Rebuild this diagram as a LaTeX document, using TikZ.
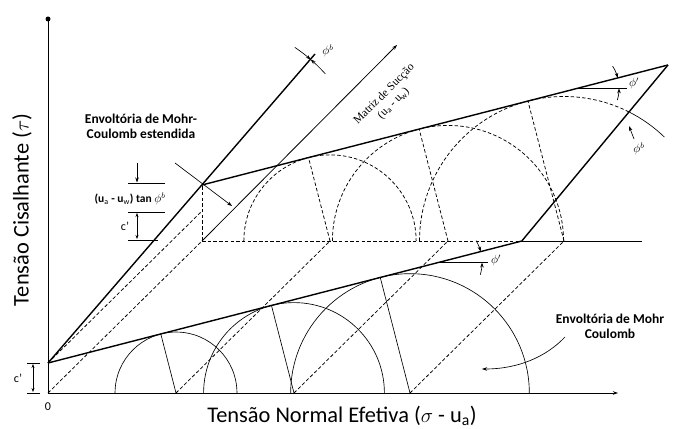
\documentclass[tikz,border=0pt]{standalone}
\usepackage{amsmath}
\usepackage{fontspec}
\setmainfont{Carlito}
\newfontfamily\serf{Liberation Serif}
\usetikzlibrary{calc,arrows.meta}

\begin{document}
\begin{tikzpicture}[x=1pt,y=1pt,>={Stealth[length=5pt,width=3.5pt]},
  env/.style={line width=1.4pt},
  thinl/.style={line width=0.65pt},
  dsh/.style={line width=0.75pt,dash pattern=on 3.5pt off 2.2pt},
  brk/.style={line width=0.7pt},
  lbl/.style={font=\bfseries\fontsize{13.5}{15}\selectfont,align=center,inner sep=0pt}]
  \useasboundingbox (-48,-36) rectangle (625,393);
  \def\k{0.2575}
  \def\ph{14.44}
  \coordinate (O) at (0,0);
  \coordinate (Yt) at (0,374);
  \coordinate (Xe) at (570,0);
  \coordinate (C0) at (0,30);
  \coordinate (B0) at (154,152);
  \coordinate (C1) at (154,208);
  \coordinate (Cs) at (154,182);
  \coordinate (E1) at (473.8,152);
  \coordinate (Ap) at (620,328);
  \coordinate (Be) at (594,152);
  \coordinate (Tb) at (267,339);
  \coordinate (Su) at (349,348);
  \coordinate (V1) at (390,130.4);
  \coordinate (V2) at (529,304.6);
  % eixos
  \draw[line width=0.9pt] (O)--(Yt);
  \fill (Yt) circle (2.5);
  \draw[line width=0.9pt,->] (O)--(Xe);
  \node[font=\fontsize{12}{14}\selectfont] at (0,-14) {0};
  \node[font=\fontsize{22.4}{26}\selectfont,anchor=base] at (294,-29) {Tensão Normal Efetiva ($\sigma$ - u$_{\mathrm{a}}$)};
  \node[font=\fontsize{22.4}{26}\selectfont,rotate=90] at (-26,183) {Tensão Cisalhante ($\tau$)};
  % plano de succao
  \draw[dsh] (O)--(B0);
  \draw[line width=0.8pt,->] (B0)--(Su);
  \node[font=\serf\fontsize{11.5}{13}\selectfont,rotate=45,align=center] at (341,294) {Matriz de Sucção\\(u$_{\mathrm{a}}$ - u$_{\mathrm{w}}$)};
  \draw[dsh] (C0)--(Cs);
  \draw[dsh] (B0)--(C1);
  \draw[dsh] (B0)--(E1);
  \draw[line width=0.9pt] (E1)--(Be);
  % circulos
  \foreach \c in {128,246,362} {
    \pgfmathsetmacro\r{(30+\k*\c)*cos(\ph)}
    \draw[thinl] (\c-\r,0) arc[start angle=180,end angle=0,radius=\r];
    \draw[thinl] (\c,0) -- ++(90+\ph:\r);
    \draw[dsh] (\c,0) -- ++(154,152);
  }
  \foreach \c in {128,246} {
    \pgfmathsetmacro\r{(56+\k*\c)*cos(\ph)}
    \draw[dsh] (\c+154-\r,152) arc[start angle=180,end angle=0,radius=\r];
    \draw[dsh] (\c+154,152) -- ++(90+\ph:\r);
  }
  \pgfmathsetmacro\rC{(56+\k*362)*cos(\ph)}
  \draw[dsh] (516-\rC,152) arc[start angle=180,end angle=63,radius=\rC];
  \draw[thinl] ($(516,152)+(63:\rC)$) arc[start angle=63,end angle=46,radius=\rC];
  \draw[dsh] (516,152) -- ++(90+\ph:\rC);
  % envoltorias
  \draw[env] (C0)--(E1);
  \draw[env] (C1)--(Ap);
  \draw[env] (E1)--(Ap);
  \draw[env] (C0)--(Tb);
  % angulos
  \draw[thinl] (V1) -- ++(50,0);
  \draw[thinl,->] ($(V1)+(30:44)$) arc[start angle=30,end angle=\ph,radius=44];
  \draw[thinl,->] ($(V1)+(-16:44)$) arc[start angle=-16,end angle=0,radius=44];
  \node[font=\fontsize{12}{13}\selectfont] at ($(V1)+(58,2)$) {$\phi'$};
  \draw[thinl] (V2) -- ++(50,0);
  \draw[thinl,->] ($(V2)+(32:42)$) arc[start angle=32,end angle=\ph,radius=42];
  \draw[thinl,->] ($(V2)+(-16:42)$) arc[start angle=-16,end angle=0,radius=42];
  \node[font=\fontsize{12}{13}\selectfont] at ($(V2)+(57,5)$) {$\phi'$};
  \draw[thinl,->] ($(C1)+(56:166)$) arc[start angle=56,end angle=49.1,radius=166];
  \draw[thinl,->] ($(C1)+(42:166)$) arc[start angle=42,end angle=49.1,radius=166];
  \node[font=\fontsize{12}{13}\selectfont] at (280,342) {$\phi^b$};
  \draw[thinl,->] (586,254)--(581,267);
  \node[font=\fontsize{12}{13}\selectfont] at (591,244) {$\phi^b$};
  % cotas
  \draw[brk] (-21,30)--(-8,30);
  \draw[brk] (-21,0)--(-8,0);
  \draw[brk,{Stealth[length=4pt,width=3pt]}-{Stealth[length=4pt,width=3pt]}] (-15,1)--(-15,29);
  \node[font=\fontsize{12}{13}\selectfont] at (-30,15) {c'};
  \draw[brk,->] (89,230)--(89,210.5);
  \draw[brk] (80,210)--(117,210);
  \draw[brk] (80,181)--(117,181);
  \draw[brk] (80,153)--(110,153);
  \draw[brk,{Stealth[length=4pt,width=3pt]}-{Stealth[length=4pt,width=3pt]}] (89,154)--(89,180);
  \node[font=\bfseries\fontsize{11.5}{13}\selectfont] at (82,194) {(u$_{\mathrm{a}}$ - u$_{\mathrm{w}}$) tan $\phi^b$};
  \node[font=\fontsize{12}{13}\selectfont] at (77,167) {c'};
  % rotulos
  \node[lbl] (ext) at (93,267) {Envoltória de Mohr-\\Coulomb estendida};
  \draw[thinl,->] (127,230)--(184,187);
  \node[lbl] (mc) at (562,67) {Envoltória de Mohr\\Coulomb};
  \draw[thinl,->] (517,56) .. controls (498,36) and (470,24) .. (434,24);
\end{tikzpicture}
\end{document}
